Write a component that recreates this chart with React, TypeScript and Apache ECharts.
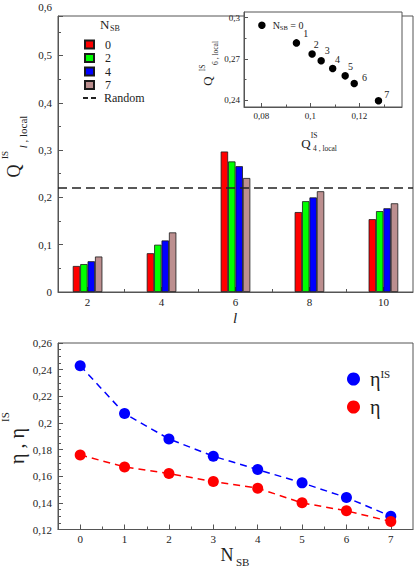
import React, { useEffect, useRef } from 'react';
import * as echarts from 'echarts';

// ---------- data: top bar chart ----------
const L_VALUES = [2, 4, 6, 8, 10];
const L_MINOR = [3, 5, 7, 9];
const NSB_GROUPS = ['0', '2', '4', '7'];
const Q_NSB0 = [0.055, 0.082, 0.297, 0.169, 0.154];
const Q_NSB2 = [0.059, 0.1, 0.276, 0.192, 0.171];
const Q_NSB4 = [0.065, 0.109, 0.266, 0.2, 0.177];
const Q_NSB7 = [0.075, 0.126, 0.241, 0.213, 0.1875];
const RANDOM_Q = 0.219;

// ---------- data: inset ----------
const INSET_NSB = [0, 1, 2, 3, 4, 5, 6, 7];
const INSET_Q4 = [0.0802, 0.0943, 0.1007, 0.1044, 0.1091, 0.1142, 0.1179, 0.1278];
const INSET_Q6 = [0.2944, 0.2816, 0.2736, 0.2686, 0.263, 0.2577, 0.2522, 0.2396];
const INSET_X_TICKS = [0.08, 0.1, 0.12];
const INSET_X_MINOR = [0.09, 0.11, 0.13];
const INSET_Y_TICKS = [0.24, 0.27, 0.3];
const INSET_Y_MINOR = [0.255, 0.285];

// ---------- data: bottom chart ----------
const NSB = [0, 1, 2, 3, 4, 5, 6, 7];
const NSB_MINOR = [0.5, 1.5, 2.5, 3.5, 4.5, 5.5, 6.5];
const ETA_IS = [0.243, 0.207, 0.188, 0.175, 0.165, 0.155, 0.144, 0.13];
const ETA = [0.176, 0.167, 0.162, 0.156, 0.151, 0.14, 0.134, 0.126];

// ---------- styles ----------
const BAR_COLORS = ['#ff0000', '#00ff00', '#0000ff', '#bc8f8f'];
const AX = '#555';
const TXT = '#222';
const FONT = '"Liberation Serif", "Times New Roman", serif';
const LABEL_OFFSETS = [[0, 0], [1, -9.4], [-4, -9.7], [-2.2, -10.7], [-3.5, -9.3], [-3, -9.7], [2, -6], [0, -6.4]];

const fmt = (v: number) => String(parseFloat(v.toFixed(4))).replace('.', ',');

const tickStyle = { color: AX, width: 1 };

function mainAxis(extra: any) {
  return {
    type: 'value',
    axisLine: { show: true, onZero: false, lineStyle: { color: AX, width: 1 } },
    axisTick: { show: true, inside: true, length: 5, lineStyle: tickStyle },
    axisLabel: { fontSize: 11, fontFamily: FONT, color: TXT, formatter: fmt },
    splitLine: { show: false },
    ...extra,
  };
}

function minorAxis(extra: any, values: number[], len = 3) {
  return {
    type: 'value',
    axisLine: { show: false, onZero: false },
    axisTick: { show: true, inside: true, length: len, customValues: values, lineStyle: tickStyle },
    axisLabel: { show: false },
    splitLine: { show: false },
    ...extra,
  };
}

function txt(x: number, y: number, text: string, size: number, opts: any = {}) {
  return {
    type: 'text',
    x,
    y,
    rotation: opts.rotation || 0,
    style: {
      text,
      font: `${opts.italic ? 'italic ' : ''}${size}px ${FONT}`,
      fill: TXT,
      align: opts.align || 'center',
      verticalAlign: 'middle',
      rich: opts.rich,
    },
    silent: true,
  };
}

export default function App() {
  const ref = useRef<HTMLDivElement>(null);
  useEffect(() => {
    if (!ref.current) return;
    const chart = echarts.init(ref.current, null, { renderer: 'svg' });
    const barSeries = [Q_NSB0, Q_NSB2, Q_NSB4, Q_NSB7].map((vals, k) => ({
      name: NSB_GROUPS[k],
      type: 'bar',
      xAxisIndex: 0,
      yAxisIndex: 0,
      data: L_VALUES.map((l, i) => [l, vals[i]]),
      barWidth: 7.4,
      barGap: '0%',
      itemStyle: { color: BAR_COLORS[k], borderColor: '#1a1a1a', borderWidth: 0.8 },
    }));
    const R = Math.PI / 2;
    const option: any = {
      animation: false,
      grid: [
        { left: 58, top: 16, width: 355, height: 276, show: true, borderColor: AX, borderWidth: 1, backgroundColor: 'transparent' },
        { left: 244, top: 12, width: 158, height: 95, show: true, borderColor: AX, borderWidth: 1, backgroundColor: '#fff' },
        { left: 58, top: 343, width: 355, height: 186.5, show: true, borderColor: AX, borderWidth: 1, backgroundColor: 'transparent' },
      ],
      xAxis: [
        mainAxis({ gridIndex: 0, position: 'bottom', min: 1.2, max: 10.8,
          axisTick: { show: true, inside: true, length: 5, customValues: L_VALUES, lineStyle: tickStyle },
          axisLabel: { customValues: L_VALUES, margin: 4, fontSize: 11, fontFamily: FONT, color: TXT, formatter: fmt } }),
        minorAxis({ gridIndex: 0, position: 'bottom', min: 1.2, max: 10.8 }, L_MINOR),
        mainAxis({ gridIndex: 1, position: 'bottom', min: 0.0729, max: 0.1374,
          axisTick: { show: true, inside: true, length: 4, customValues: INSET_X_TICKS, lineStyle: tickStyle },
          axisLabel: { customValues: INSET_X_TICKS, margin: 4, fontSize: 9, fontFamily: FONT, color: TXT, formatter: fmt } }),
        minorAxis({ gridIndex: 1, position: 'bottom', min: 0.0729, max: 0.1374 }, INSET_X_MINOR, 2.5),
        mainAxis({ gridIndex: 2, position: 'bottom', min: -0.5, max: 7.5,
          axisTick: { show: true, inside: true, length: 5, customValues: NSB, lineStyle: tickStyle },
          axisLabel: { customValues: NSB, margin: 4, fontSize: 11, fontFamily: FONT, color: TXT, formatter: fmt } }),
        minorAxis({ gridIndex: 2, position: 'bottom', min: -0.5, max: 7.5 }, NSB_MINOR),
      ],
      yAxis: [
        mainAxis({ gridIndex: 0, position: 'left', min: 0, max: 0.5835, interval: 0.1,
          minorTick: { show: true, splitNumber: 2, length: 3, lineStyle: tickStyle },
          axisLabel: { margin: 6, fontSize: 11, fontFamily: FONT, color: TXT,
            formatter: (v: number) => (v > 0.55 ? '' : fmt(v)) } }),
        mainAxis({ gridIndex: 1, position: 'left', min: 0.2351, max: 0.304,
          axisTick: { show: true, inside: true, length: 4, customValues: INSET_Y_TICKS, lineStyle: tickStyle },
          axisLabel: { customValues: INSET_Y_TICKS, margin: 4, fontSize: 9, fontFamily: FONT, color: TXT, formatter: fmt } }),
        minorAxis({ gridIndex: 1, position: 'left', min: 0.2351, max: 0.304 }, INSET_Y_MINOR, 2.5),
        mainAxis({ gridIndex: 2, position: 'left', min: 0.12, max: 0.26, interval: 0.02,
          minorTick: { show: true, splitNumber: 4, length: 3, lineStyle: tickStyle },
          axisLabel: { margin: 6, fontSize: 11, fontFamily: FONT, color: TXT, formatter: fmt } }),
      ],
      legend: [
        {
          data: NSB_GROUPS,
          orient: 'vertical',
          left: 79,
          top: 33,
          itemWidth: 9,
          itemHeight: 8,
          itemGap: 0.5,
          icon: 'rect',
          selectedMode: false,
          textStyle: { fontSize: 12, fontFamily: FONT, color: TXT, lineHeight: 13, padding: [0, 0, 0, 6] },
        },
        {
          data: [{ name: 'Random', icon: 'path://M0,0h5v2h-5z M8,0h5v2h-5z' }],
          orient: 'vertical',
          left: 78,
          top: 86.5,
          itemWidth: 13,
          itemHeight: 2,
          selectedMode: false,
          textStyle: { fontSize: 12, fontFamily: FONT, color: TXT, lineHeight: 13, padding: [0, 0, 0, 3] },
        },
        {
          data: ['etaIS', 'eta'],
          orient: 'vertical',
          left: 342,
          top: 363,
          itemWidth: 13,
          itemHeight: 13,
          itemGap: 8,
          icon: 'circle',
          selectedMode: false,
          formatter: (name: string) => (name === 'etaIS' ? '{e|η}{s|IS}' : '{e|η}'),
          textStyle: {
            color: TXT,
            padding: [0, 0, 0, 5],
            rich: {
              e: { fontSize: 20, fontFamily: FONT, color: TXT, lineHeight: 22 },
              s: { fontSize: 11, fontFamily: FONT, color: TXT, lineHeight: 11, verticalAlign: 'top' },
            },
          },
        },
      ],
      series: [
        ...barSeries,
        {
          name: 'Random',
          type: 'line',
          xAxisIndex: 0,
          yAxisIndex: 0,
          data: [],
          itemStyle: { color: '#222' },
          lineStyle: { color: '#222' },
          markLine: {
            silent: true,
            symbol: 'none',
            label: { show: false },
            lineStyle: { color: '#222', type: [9, 5], width: 1.6 },
            data: [{ yAxis: RANDOM_Q }],
          },
        },
        {
          name: 'inset',
          type: 'scatter',
          xAxisIndex: 2,
          yAxisIndex: 1,
          symbolSize: 7.5,
          itemStyle: { color: '#000', opacity: 1 },
          data: INSET_NSB.map((n, i) => ({
            value: [INSET_Q4[i], INSET_Q6[i]],
            label: {
              show: true,
              position: 'right',
              distance: i === 0 ? 7 : 2,
              offset: LABEL_OFFSETS[i],
              formatter: i === 0 ? `{n|N}{s|SB}{n| = ${n}}` : String(n),
              fontSize: 10,
              fontFamily: FONT,
              color: TXT,
              rich: {
                n: { fontSize: 10, fontFamily: FONT, color: TXT, lineHeight: 12 },
                s: { fontSize: 6.5, fontFamily: FONT, color: TXT, lineHeight: 7, verticalAlign: 'bottom' },
              },
            },
          })),
        },
        {
          name: 'etaIS',
          type: 'line',
          xAxisIndex: 4,
          yAxisIndex: 3,
          data: NSB.map((n, i) => [n, ETA_IS[i]]),
          symbol: 'circle',
          symbolSize: 11,
          itemStyle: { color: '#0000ff' },
          lineStyle: { color: '#0000ff', type: [7, 5], width: 1.5 },
          z: 3,
        },
        {
          name: 'eta',
          type: 'line',
          xAxisIndex: 4,
          yAxisIndex: 3,
          data: NSB.map((n, i) => [n, ETA[i]]),
          symbol: 'circle',
          symbolSize: 11,
          itemStyle: { color: '#ff0000' },
          lineStyle: { color: '#ff0000', type: [7, 5], width: 1.5 },
          z: 4,
        },
      ],
      graphic: [
        // top y-axis extra label
        txt(52, 7.3, '0,6', 11, { align: 'right' }),
        // legend title N_SB
        txt(100, 24, 'N', 13, { align: 'left' }),
        txt(110, 28, 'SB', 8, { align: 'left' }),
        // top y title
        txt(14, 171, 'Q', 18, { rotation: R }),
        txt(5, 155, 'IS', 9, { rotation: R }),
        {
          type: 'text', x: 23, y: 132, rotation: R, silent: true,
          style: {
            text: '{i|l}{n| , local}', align: 'center', verticalAlign: 'middle',
            rich: {
              i: { font: `italic 11px ${FONT}`, fill: TXT },
              n: { font: `11px ${FONT}`, fill: TXT },
            },
          },
        },
        // top x title
        txt(235, 318, 'l', 15, { italic: true }),
        // inset x title
        txt(306, 143, 'Q', 13),
        txt(314, 135, 'IS', 7.5),
        txt(313, 148, '4 , local', 7.5, { align: 'left' }),
        // inset y title
        txt(207, 81, 'Q', 13, { rotation: R }),
        txt(202, 68, 'IS', 7.5, { rotation: R }),
        txt(215, 53, '6 , local', 7.5, { rotation: R }),
        // bottom y title
        txt(17, 446, 'η , η', 20, { rotation: R }),
        txt(5, 417, 'IS', 11, { rotation: R }),
        // bottom x title
        txt(227, 555, 'N', 18),
        txt(236, 562, 'SB', 11, { align: 'left' }),
      ],
    };
    chart.setOption(option);
    return () => chart.dispose();
  }, []);
  return (
    <div
      ref={ref}
      style={{ position: 'absolute', left: 0, top: 0, width: 415, height: 571, background: '#fff' }}
    />
  );
}
